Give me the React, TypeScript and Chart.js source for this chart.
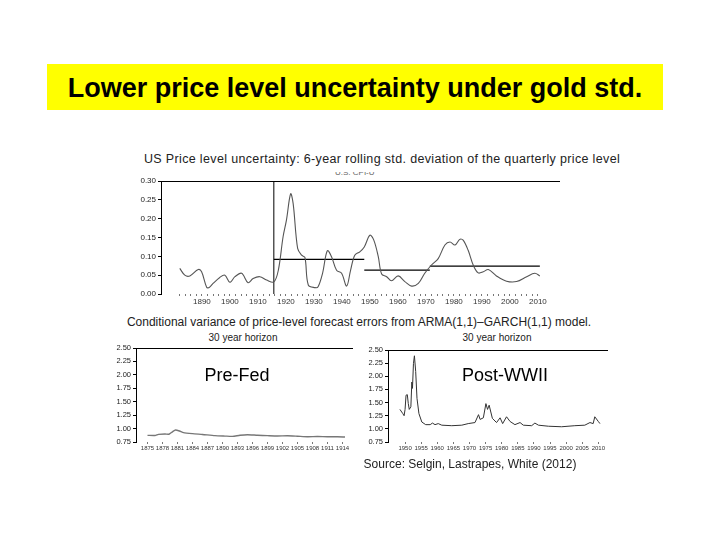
import React, { useEffect, useRef } from 'react';
import { Chart, registerables } from 'chart.js';
Chart.register(...registerables);

// ---------- Top chart: US price level uncertainty ----------
const topYears = [1882.1, 1883.9, 1885.7, 1888.7, 1889.9, 1891.7, 1892.6, 1894, 1896.4, 1898.2, 1900, 1901.8, 1904.2, 1906.5, 1908.3, 1910.7, 1913.1, 1915.7, 1917.3, 1919, 1920.2, 1921.7, 1922.6, 1924.2, 1925.6, 1926.8, 1928, 1930.4, 1931.5, 1933.1, 1934.8, 1936.3, 1938.1, 1939.9, 1941.7, 1943.1, 1944.6, 1946.4, 1948, 1950, 1951.4, 1953, 1954.2, 1956, 1957.7, 1960.1, 1962.5, 1964.9, 1967.3, 1969.6, 1972, 1974.4, 1976.8, 1978.6, 1980.4, 1982.1, 1983.3, 1985.1, 1986.9, 1988.7, 1990.5, 1992.3, 1995.2, 1998.8, 2002.4, 2006, 2008.9, 2010.7];
const topValues = [0.068, 0.050, 0.048, 0.065, 0.059, 0.018, 0.017, 0.028, 0.044, 0.050, 0.031, 0.046, 0.055, 0.030, 0.041, 0.046, 0.037, 0.032, 0.063, 0.152, 0.196, 0.266, 0.240, 0.121, 0.103, 0.097, 0.024, 0.017, 0.019, 0.055, 0.115, 0.099, 0.063, 0.055, 0.021, 0.063, 0.103, 0.112, 0.125, 0.156, 0.143, 0.099, 0.053, 0.046, 0.035, 0.048, 0.033, 0.021, 0.028, 0.055, 0.077, 0.094, 0.130, 0.138, 0.130, 0.145, 0.143, 0.116, 0.077, 0.056, 0.059, 0.065, 0.048, 0.034, 0.033, 0.046, 0.055, 0.048];
const meanStarts = [1915.7, 1948, 1971.4];
const meanEnds = [1948, 1971.4, 2010.7];
const meanValues = [0.092, 0.0635, 0.074];
const breakYear = 1915.7;
const topYTicks = [0, 0.05, 0.1, 0.15, 0.2, 0.25, 0.3];
const topXLabels = [1890, 1900, 1910, 1920, 1930, 1940, 1950, 1960, 1970, 1980, 1990, 2000, 2010];

// ---------- Bottom-left: Pre-Fed ----------
const preYears = [1875, 1876.5, 1877.2, 1878.5, 1879.3, 1880, 1880.6, 1881.4, 1882.2, 1884, 1886, 1888.5, 1890.5, 1892, 1893.5, 1895, 1897, 1899, 1901, 1903, 1905, 1907, 1909, 1911, 1913, 1914.5];
const preValues = [0.874, 0.872, 0.893, 0.899, 0.895, 0.94, 0.973, 0.955, 0.925, 0.905, 0.89, 0.868, 0.86, 0.855, 0.876, 0.886, 0.875, 0.868, 0.862, 0.866, 0.858, 0.849, 0.852, 0.847, 0.848, 0.843];
const preXLabels = [1875, 1878, 1881, 1884, 1887, 1890, 1893, 1896, 1899, 1902, 1905, 1908, 1911, 1914];

// ---------- Bottom-right: Post-WWII ----------
const postYears = [1948.4, 1949.3, 1949.7, 1950, 1950.3, 1950.7, 1951, 1951.3, 1951.8, 1952.1, 1952.3, 1952.6, 1952.9, 1953.3, 1953.7, 1954.3, 1955.2, 1956.4, 1957.8, 1958.5, 1959.3, 1960.3, 1961.4, 1964.5, 1967.6, 1969.6, 1971.7, 1972.8, 1973.3, 1974.3, 1975.1, 1975.6, 1976.1, 1977.1, 1978.4, 1979.5, 1980.3, 1981.5, 1982.6, 1984.1, 1985.7, 1986.7, 1989.3, 1990.3, 1991.4, 1994.5, 1998.6, 2002.7, 2005.8, 2007.4, 2008.4, 2008.9, 2010, 2010.5];
const postValues = [1.37, 1.29, 1.25, 1.37, 1.64, 1.65, 1.48, 1.37, 1.42, 1.89, 1.77, 2.24, 2.39, 2.09, 1.58, 1.29, 1.13, 1.08, 1.08, 1.11, 1.08, 1.10, 1.07, 1.06, 1.07, 1.10, 1.12, 1.27, 1.18, 1.21, 1.48, 1.37, 1.45, 1.20, 1.12, 1.21, 1.10, 1.23, 1.14, 1.08, 1.12, 1.07, 1.06, 1.11, 1.07, 1.05, 1.04, 1.06, 1.07, 1.12, 1.10, 1.23, 1.14, 1.10];
const postXLabels = [1950, 1955, 1960, 1965, 1970, 1975, 1980, 1985, 1990, 1995, 2000, 2005, 2010];

const varYTicks = [0.75, 1.0, 1.25, 1.5, 1.75, 2.0, 2.25, 2.5];

const FONT = 'Arial, "Liberation Sans", sans-serif';

const topFrame = {
  id: 'topFrame',
  afterDraw(chart: any) {
    const { ctx, chartArea } = chart;
    ctx.save();
    ctx.strokeStyle = '#000';
    ctx.lineWidth = 1;
    ctx.beginPath();
    ctx.moveTo(chartArea.left, Math.round(chartArea.top) + 0.5);
    ctx.lineTo(chartArea.right, Math.round(chartArea.top) + 0.5);
    ctx.stroke();
    ctx.restore();
  },
};

function makeOptions(p: {
  xmin: number; xmax: number; ymin: number; ymax: number;
  xTicks: number[]; xLabels: number[]; yTicks: number[];
  yWidth: number; xHeight: number; padTop: number; padRight: number;
  xFont: number; yFont: number; yFmt: (v: number) => string;
}) {
  return {
    responsive: false,
    animation: false,
    events: [],
    layout: { padding: { top: p.padTop, right: p.padRight, left: 0, bottom: 0 } },
    plugins: { legend: { display: false }, tooltip: { enabled: false }, title: { display: false } },
    elements: { point: { radius: 0 } },
    scales: {
      x: {
        type: 'linear',
        min: p.xmin,
        max: p.xmax,
        afterBuildTicks: (s: any) => { s.ticks = p.xTicks.map((v) => ({ value: v })); },
        afterFit: (s: any) => { s.height = p.xHeight; },
        border: { display: false },
        grid: { drawOnChartArea: false, drawTicks: true, tickLength: 2, tickColor: '#777', lineWidth: 1 },
        ticks: {
          autoSkip: false,
          maxRotation: 0,
          padding: 1,
          color: '#333',
          font: { family: FONT, size: p.xFont },
          callback: (v: any) => (p.xLabels.includes(Number(v)) ? String(v) : ''),
        },
      },
      y: {
        type: 'linear',
        min: p.ymin,
        max: p.ymax,
        afterBuildTicks: (s: any) => { s.ticks = p.yTicks.map((v) => ({ value: v })); },
        afterFit: (s: any) => { s.width = p.yWidth; },
        border: { display: true, color: '#000', width: 1 },
        grid: { drawOnChartArea: false, drawTicks: true, tickLength: 3, tickColor: '#000' },
        ticks: {
          padding: 2,
          color: '#222',
          font: { family: FONT, size: p.yFont },
          callback: (v: any) => p.yFmt(Number(v)),
        },
      },
    },
  };
}

function ChartBox({ left, top, width, height, build }: { left: number; top: number; width: number; height: number; build: () => any }) {
  const ref = useRef<HTMLCanvasElement>(null);
  useEffect(() => {
    if (!ref.current) return;
    const chart = new Chart(ref.current, build());
    return () => chart.destroy();
  }, []);
  return (
    <canvas ref={ref} width={width} height={height}
      style={{ position: 'absolute', left, top, width, height }} />
  );
}

function Txt({ x, y, size, bold, color, children, spacing }: any) {
  return (
    <div style={{
      position: 'absolute', left: x, top: y, transform: 'translate(-50%, -50%)',
      whiteSpace: 'nowrap', fontSize: size, fontWeight: bold ? 'bold' : 'normal',
      color: color || '#000', lineHeight: 1, letterSpacing: spacing || 0, fontFamily: FONT,
    }}>{children}</div>
  );
}

const evenYears: number[] = [];
for (let y = 1876; y <= 2018; y += 2) evenYears.push(y);

export default function App() {
  const buildTop = () => ({
    type: 'line',
    data: {
      datasets: [
        {
          data: topYears.map((x, i) => ({ x, y: topValues[i] })),
          borderColor: '#555', borderWidth: 1.1, tension: 0.35, fill: false,
        },
        ...meanValues.map((v, i) => ({
          data: [{ x: meanStarts[i], y: v }, { x: meanEnds[i], y: v }],
          borderColor: '#000', borderWidth: 1.3, tension: 0, fill: false,
        })),
        {
          data: [{ x: breakYear, y: 0 }, { x: breakYear, y: 0.3 }],
          borderColor: '#000', borderWidth: 1, tension: 0, fill: false,
        },
      ],
    },
    options: makeOptions({
      xmin: 1875.4, xmax: 2017.9, ymin: 0, ymax: 0.3,
      xTicks: evenYears.filter((v) => v >= 1882 && v <= 2010), xLabels: topXLabels, yTicks: topYTicks,
      yWidth: 41, xHeight: 21, padTop: 16, padRight: 10,
      xFont: 8, yFont: 8, yFmt: (v) => v.toFixed(2),
    }),
    plugins: [topFrame],
  });

  const buildPre = () => ({
    type: 'line',
    data: {
      datasets: [{
        data: preYears.map((x, i) => ({ x, y: preValues[i] })),
        borderColor: '#777', borderWidth: 1.4, tension: 0.2, fill: false,
      }],
    },
    options: makeOptions({
      xmin: 1872.7, xmax: 1916.1, ymin: 0.75, ymax: 2.5,
      xTicks: preXLabels, xLabels: preXLabels, yTicks: varYTicks,
      yWidth: 36, xHeight: 13, padTop: 18, padRight: 7,
      xFont: 6, yFont: 7.5, yFmt: (v) => v.toFixed(2),
    }),
    plugins: [topFrame],
  });

  const buildPost = () => ({
    type: 'line',
    data: {
      datasets: [{
        data: postYears.map((x, i) => ({ x, y: postValues[i] })),
        borderColor: '#333', borderWidth: 1, tension: 0, fill: false,
      }],
    },
    options: makeOptions({
      xmin: 1944.7, xmax: 2013, ymin: 0.75, ymax: 2.5,
      xTicks: postXLabels, xLabels: postXLabels, yTicks: varYTicks,
      yWidth: 33, xHeight: 13, padTop: 20, padRight: 7,
      xFont: 6, yFont: 7.5, yFmt: (v) => v.toFixed(2),
    }),
    plugins: [topFrame],
  });

  return (
    <div style={{ position: 'fixed', left: 0, top: 0, width: 720, height: 540, background: '#fff', overflow: 'hidden' }}>
      <div style={{ position: 'absolute', left: 47, top: 64, width: 616, height: 46, background: '#ffff00' }} />
      <Txt x={355} y={88} size={27} bold>Lower price level uncertainty under gold std.</Txt>

      <Txt x={382} y={159} size={12.5} color="#222" spacing="0.35px">US Price level uncertainty: 6-year rolling std. deviation of the quarterly price level</Txt>
      <div style={{ position: 'absolute', left: 335, top: 172, width: 50, height: 5, overflow: 'hidden' }}>
        <div style={{ position: 'absolute', left: 0, top: -4, fontSize: 8, color: '#666', fontFamily: FONT, whiteSpace: 'nowrap' }}>U.S. CPI-U</div>
      </div>

      <ChartBox left={120} top={165} width={450} height={150} build={buildTop} />

      <Txt x={359} y={322} size={12} color="#222">Conditional variance of price-level forecast errors from ARMA(1,1)–GARCH(1,1) model.</Txt>
      <Txt x={243} y={338} size={10} color="#222">30 year horizon</Txt>
      <Txt x={497} y={338} size={10} color="#222">30 year horizon</Txt>

      <ChartBox left={100} top={330} width={260} height={125} build={buildPre} />
      <ChartBox left={355} top={330} width={260} height={125} build={buildPost} />

      <Txt x={237} y={375} size={18}>Pre-Fed</Txt>
      <Txt x={505} y={375} size={18}>Post-WWII</Txt>

      <Txt x={470} y={464} size={12} color="#222">Source:  Selgin, Lastrapes, White (2012)</Txt>
    </div>
  );
}
